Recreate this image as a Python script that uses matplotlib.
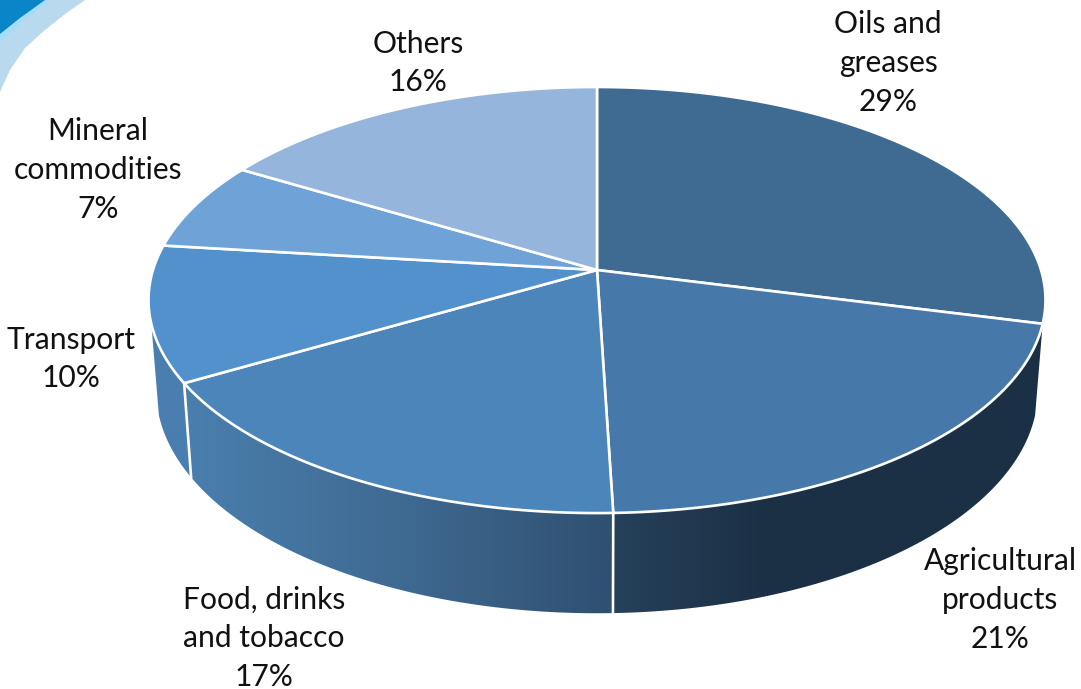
import numpy as np
import matplotlib
matplotlib.use('Agg')
import matplotlib.pyplot as plt
from matplotlib.patches import Polygon
from matplotlib.colors import LinearSegmentedColormap

labels = ['Oils and\ngreases\n29%', 'Agricultural\nproducts\n21%', 'Food, drinks\nand tobacco\n17%',
          'Transport\n10%', 'Mineral\ncommodities\n7%', 'Others\n16%']
shares = [29.0, 20.5, 17.1, 10.3, 6.7, 16.4]
top_colors = ['#3f6b93', '#4679a9', '#4c85b9', '#5291cb', '#6fa3d7', '#95b5dc']
label_pos = [(888, 63), (1000, 600), (264, 638), (71, 359), (98, 170), (418, 63)]

# perspective of the pie disc
cx, cy = 597, 270
rx, ry, persp = 444, 208.8, 0.141
low_kx, low_ky, low_cy = 0.983, 1.046, 359
wall_from, wall_to = 104.4, 255.6


def rim(theta, lower=False):
    t = np.radians(theta)
    d = 1 + persp * np.cos(t)
    x = rx * np.sin(t) / d
    y = -ry * np.cos(t) / d
    if lower:
        return cx + low_kx * x, low_cy + low_ky * y
    return cx + x, cy + y


def wall(ax, a, b, stops):
    # side of the pie between two angles, shaded left to right
    a, b = max(a, wall_from), min(b, wall_to)
    th = np.linspace(a, b, 80)
    tx, ty = rim(th)
    lx, ly = rim(th[::-1], lower=True)
    pts = np.column_stack([np.r_[tx, lx], np.r_[ty, ly]])
    x0, x1 = pts[:, 0].min(), pts[:, 0].max()
    poly = Polygon(pts, closed=True, fc='none', ec='none')
    ax.add_patch(poly)
    cmap = LinearSegmentedColormap.from_list('w', stops)
    im = ax.imshow(np.linspace(0, 1, 256).reshape(1, -1), cmap=cmap, aspect='auto',
                   extent=(x0, x1, 700, 0), zorder=1)
    im.set_clip_path(poly)


fig = plt.figure(figsize=(10.81, 6.89), dpi=100)
ax = fig.add_axes([0, 0, 1, 1])

# background swoosh in the corner
ax.add_patch(Polygon([(0, 92), (10, 70), (25, 48), (45, 30), (65, 14), (85, 0), (0, 0)], fc='#b9d9ef', ec='none', zorder=0))
ax.add_patch(Polygon([(0, 42), (22, 22), (50, 0), (0, 0)], fc='#a5dcf8', ec='none', zorder=0))
ax.add_patch(Polygon([(0, 34), (20, 18), (45, 0), (0, 0)], fc='#0a86c8', ec='none', zorder=0))

edges = np.r_[0, np.cumsum(shares)] / sum(shares) * 360

wall_stops = {1: ['#26415b', '#1c3146', '#1b3045', '#1b3045'],
              2: ['#4a7fae', '#3f6a92', '#2f5070'],
              3: ['#4a7eb0', '#4a7eb0']}
for i, stops in wall_stops.items():
    wall(ax, edges[i], edges[i + 1], stops)

# white line on the wall where slices meet
for e in edges[2:4]:
    x0, y0 = rim(e)
    x1, y1 = rim(e, lower=True)
    ax.plot([x0, x1], [y0, y1], color='white', lw=1.9, zorder=2)

for i, c in enumerate(top_colors):
    th = np.linspace(edges[i], edges[i + 1], 120)
    x, y = rim(th)
    ax.add_patch(Polygon(np.column_stack([np.r_[cx, x], np.r_[cy, y]]), closed=True,
                         fc=c, ec='white', lw=1.9, joinstyle='round', zorder=3))

for s, (x, y) in zip(labels, label_pos):
    ax.text(x, y, s, ha='center', va='center', fontsize=21.6, family='Lato',
            color='#111111', linespacing=1.46, zorder=4)

ax.set_xlim(0, 1081)
ax.set_ylim(689, 0)
ax.axis('off')
fig.savefig('out.png', dpi=100)
